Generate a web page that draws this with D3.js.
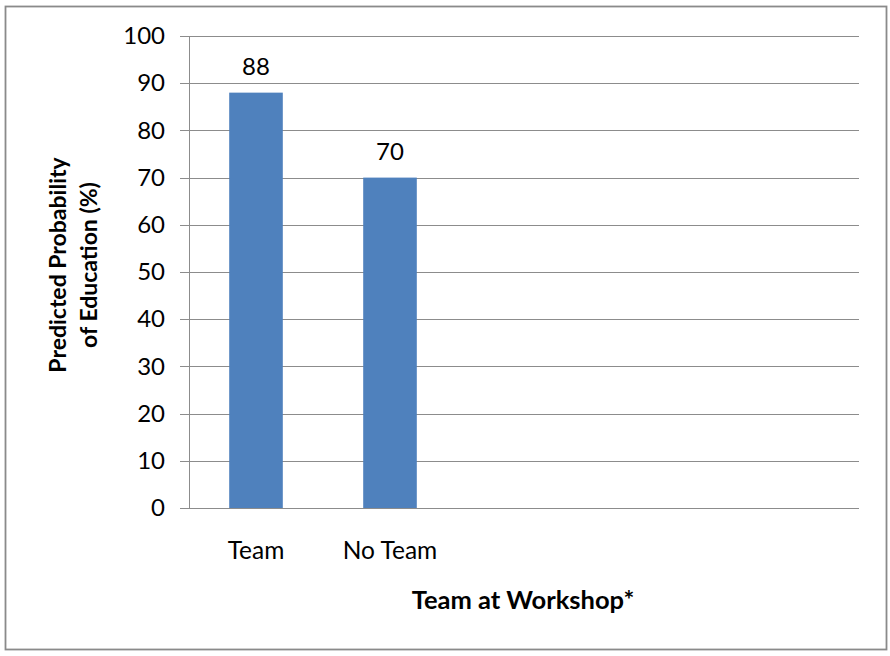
<!DOCTYPE html>
<meta charset="utf-8">
<style>
  body { margin: 0; background: #fff; }
  text { font-family: Lato, "Open Sans", sans-serif; fill: #000; }
  .grid line { stroke: #8c8c8c; stroke-width: 1; }
  .axis path, .axis line { stroke: #8c8c8c; }
</style>
<body>
<script src="https://cdn.jsdelivr.net/npm/d3@7"></script>
<script>
  // chart data
  const categories = ["Team", "No Team", "", "", ""];
  const values = [88, 70, null, null, null];
  const yTicks = [0, 10, 20, 30, 40, 50, 60, 70, 80, 90, 100];

  const W = 890, H = 656;
  const margin = { top: 36, right: 31, bottom: 148, left: 189 };
  const width = W - margin.left - margin.right;
  const height = H - margin.top - margin.bottom;

  const svg = d3.select("body").append("svg")
    .attr("width", W)
    .attr("height", H);

  // outer frame
  svg.append("rect")
    .attr("x", 5.5).attr("y", 6.5)
    .attr("width", 881).attr("height", 643)
    .attr("fill", "#fff")
    .attr("stroke", "#8a8a8a")
    .attr("stroke-width", 1.8);

  const g = svg.append("g")
    .attr("transform", `translate(${margin.left},${margin.top})`);

  const x = d3.scaleBand()
    .domain(d3.range(categories.length))
    .range([0, width])
    .paddingInner(0.6)
    .paddingOuter(0.3);

  const y = d3.scaleLinear().domain([0, 100]).range([height, 0]);

  // gridlines
  g.append("g").attr("class", "grid")
    .selectAll("line")
    .data(yTicks)
    .join("line")
    .attr("x1", -9).attr("x2", width)
    .attr("y1", d => Math.round(y(d)) + 0.5)
    .attr("y2", d => Math.round(y(d)) + 0.5);

  // y axis
  const yAxis = g.append("g").attr("class", "axis")
    .call(d3.axisLeft(y).tickValues(yTicks).tickSize(0).tickPadding(24));
  yAxis.select(".domain").remove();
  yAxis.selectAll("text").attr("font-size", 24).attr("fill", "#111");
  g.append("line")
    .attr("x1", 0.5).attr("x2", 0.5)
    .attr("y1", 0).attr("y2", height)
    .attr("stroke", "#8c8c8c");

  // bars
  const barData = values.map((v, i) => ({ i, v })).filter(d => d.v != null);
  g.selectAll(".bar")
    .data(barData)
    .join("rect")
    .attr("class", "bar")
    .attr("x", d => x(d.i))
    .attr("width", x.bandwidth())
    .attr("y", d => y(d.v))
    .attr("height", d => y(0) - y(d.v))
    .attr("fill", "#4f81bd");

  // data labels
  g.selectAll(".lbl")
    .data(barData)
    .join("text")
    .attr("class", "lbl")
    .attr("x", d => x(d.i) + x.bandwidth() / 2)
    .attr("y", d => y(d.v) - 18)
    .attr("text-anchor", "middle")
    .attr("font-size", 24)
    .attr("fill", "#111")
    .text(d => d.v);

  // category labels
  g.selectAll(".cat")
    .data(categories.map((c, i) => ({ c, i })))
    .join("text")
    .attr("class", "cat")
    .attr("x", d => x(d.i) + x.bandwidth() / 2)
    .attr("y", height + 51)
    .attr("text-anchor", "middle")
    .attr("font-size", 24.5)
    .attr("fill", "#111")
    .text(d => d.c);

  // x title
  svg.append("text")
    .attr("x", 523).attr("y", 609)
    .attr("text-anchor", "middle")
    .attr("font-size", 25.5)
    .attr("font-weight", "bold")
    .text("Team at Workshop*");

  // y title
  const yt = svg.append("text")
    .attr("transform", "translate(0,265) rotate(-90)")
    .attr("text-anchor", "middle")
    .attr("font-size", 23)
    .attr("font-weight", "bold");
  yt.append("tspan").attr("x", 0).attr("y", 66).text("Predicted Probability");
  yt.append("tspan").attr("x", 0).attr("y", 97).text("of Education (%)");
</script>
</body>
